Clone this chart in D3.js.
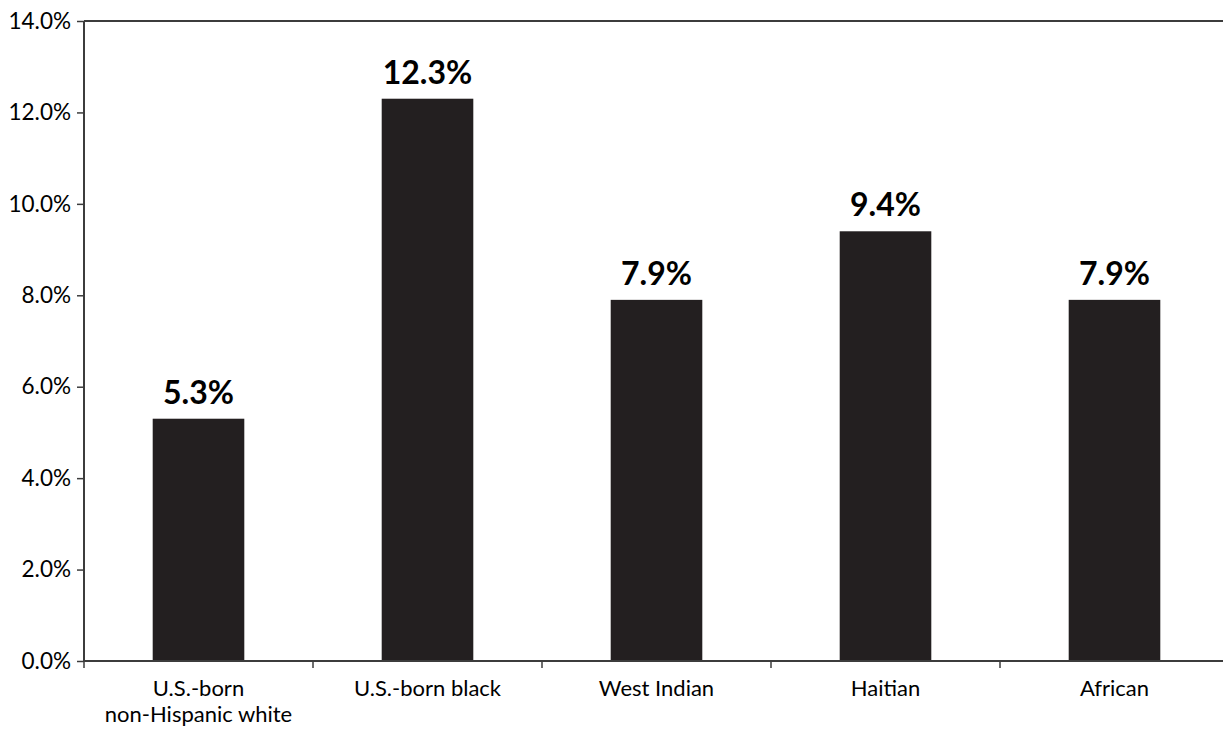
<!DOCTYPE html>
<html>
<head>
<meta charset="utf-8">
<script src="https://cdn.jsdelivr.net/npm/d3@7"></script>
<style>
  html, body { margin: 0; padding: 0; background: #fff; }
  svg { display: block; }
</style>
</head>
<body>
<svg id="chart" width="1223" height="731"></svg>
<script>
const categories = [["U.S.-born", "non-Hispanic white"], ["U.S.-born black"], ["West Indian"], ["Haitian"], ["African"]];
const values = [5.3, 12.3, 7.9, 9.4, 7.9];
const yTicks = [0, 2, 4, 6, 8, 10, 12, 14];

const svg = d3.select("#chart");
const margin = { left: 84, top: 21, bottom: 70 };
const plotW = 229 * 5;
const H = 731;
const y0 = H - margin.bottom, y1 = margin.top;

const x = d3.scaleBand().domain(d3.range(categories.length)).range([margin.left, margin.left + plotW]).paddingInner(0.6).paddingOuter(0.3);
const xb = d3.scaleLinear().domain([0, categories.length]).range([margin.left, margin.left + plotW]);
const y = d3.scaleLinear().domain([0, 14]).range([y0, y1]);

const font = "Lato, 'Open Sans', sans-serif";
const axisColor = "#3c3c3c";

// bars
svg.selectAll("rect.bar").data(values).join("rect")
  .attr("class", "bar")
  .attr("x", (d, i) => x(i))
  .attr("width", x.bandwidth())
  .attr("y", d => y(d))
  .attr("height", d => y(0) - y(d))
  .attr("fill", "#231f20");

// value labels
svg.selectAll("text.val").data(values).join("text")
  .attr("class", "val")
  .attr("x", (d, i) => x(i) + x.bandwidth() / 2)
  .attr("y", d => y(d) - 15)
  .attr("text-anchor", "middle")
  .attr("font-family", font)
  .attr("font-weight", "bold")
  .attr("font-size", 32)
  .attr("fill", "#000")
  .text(d => d.toFixed(1) + "%");

// y axis
const yAxis = d3.axisLeft(y).tickValues(yTicks).tickSize(7).tickPadding(6).tickFormat(d => d.toFixed(1) + "%");
const gy = svg.append("g").attr("transform", `translate(${margin.left},0)`).call(yAxis);
gy.select(".domain").remove();
gy.selectAll(".tick line").attr("stroke", axisColor).attr("stroke-width", 1.5);
gy.selectAll(".tick text").attr("font-family", font).attr("font-size", 22.5).attr("fill", "#000");
svg.append("line").attr("x1", margin.left).attr("x2", margin.left).attr("y1", y(14)).attr("y2", y(0))
  .attr("stroke", axisColor).attr("stroke-width", 2);

// top frame line
svg.append("line").attr("x1", margin.left).attr("x2", margin.left + plotW).attr("y1", y(14)).attr("y2", y(14))
  .attr("stroke", axisColor).attr("stroke-width", 2);

// x axis baseline and category separators
svg.append("line").attr("x1", margin.left).attr("x2", margin.left + plotW).attr("y1", y(0)).attr("y2", y(0))
  .attr("stroke", axisColor).attr("stroke-width", 2);
svg.selectAll("line.sep").data(d3.range(categories.length + 1)).join("line")
  .attr("class", "sep")
  .attr("x1", d => xb(d)).attr("x2", d => xb(d))
  .attr("y1", y(0)).attr("y2", y(0) + 7)
  .attr("stroke", axisColor).attr("stroke-width", 1.5);

// category labels (one text per line)
categories.forEach((lines, i) => {
  lines.forEach((line, j) => {
    svg.append("text")
      .attr("class", "cat")
      .attr("x", x(i) + x.bandwidth() / 2)
      .attr("y", y(0) + 35 + j * 26)
      .attr("text-anchor", "middle")
      .attr("font-family", font)
      .attr("font-size", 22)
      .attr("fill", "#000")
      .text(line);
  });
});
</script>
</body>
</html>
